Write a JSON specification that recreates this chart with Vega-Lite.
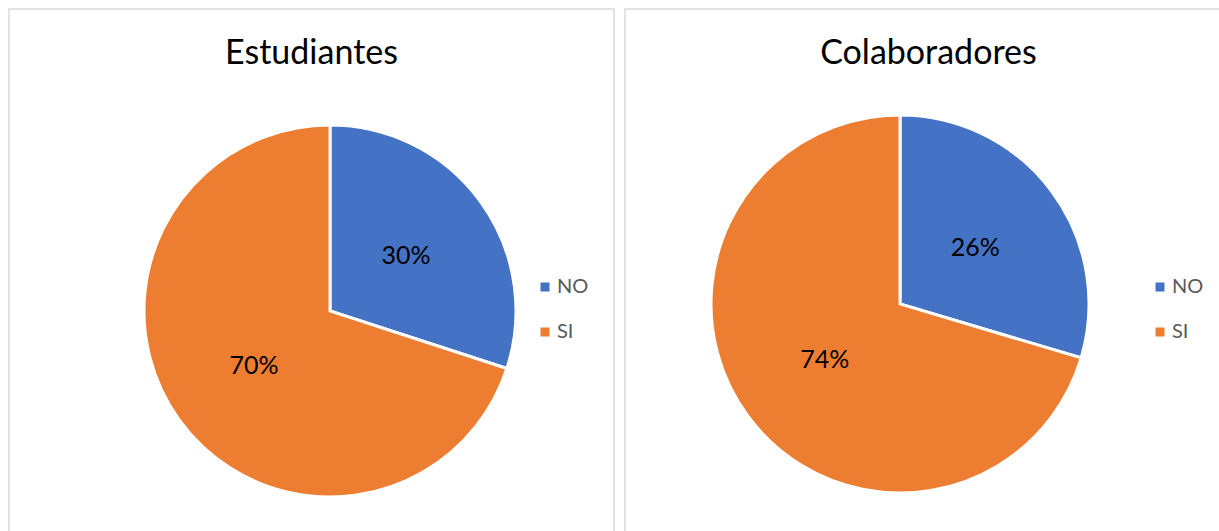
{
  "$schema": "https://vega.github.io/schema/vega-lite/v6.json",
  "padding": {"left": 8, "top": 8, "right": 0, "bottom": 0},
  "background": "white",
  "spacing": 9,
  "config": {
    "view": {"stroke": "#d9d9d9", "strokeWidth": 1.5},
    "font": "Lato",
    "title": {"font": "Lato", "fontSize": 34, "fontWeight": "normal", "color": "#000000", "anchor": "middle", "offset": -62, "baseline": "alphabetic"},
    "legend": {
      "orient": "none", "title": null, "symbolType": "square", "symbolSize": 81,
      "symbolStrokeWidth": 0, "labelFont": "Lato", "labelFontSize": 20, "labelColor": "#595959",
      "labelOffset": 2, "rowPadding": 25, "padding": 0
    }
  },
  "data": {
    "values": [
      {"grupo": "Estudiantes", "categoria": "NO", "valor": 30, "etiqueta": "30%"},
      {"grupo": "Estudiantes", "categoria": "SI", "valor": 70, "etiqueta": "70%"},
      {"grupo": "Colaboradores", "categoria": "NO", "valor": 29.6, "etiqueta": "26%"},
      {"grupo": "Colaboradores", "categoria": "SI", "valor": 70.4, "etiqueta": "74%"}
    ]
  },
  "resolve": {"scale": {"color": "independent", "theta": "independent"}, "legend": {"color": "independent"}},
  "hconcat": [
    {
      "width": 605,
      "height": 523,
      "view": {"stroke": "#d9d9d9", "strokeWidth": 1.5, "fill": "white"},
      "title": {"text": "Estudiantes"},
      "transform": [{"filter": "datum.grupo === 'Estudiantes'"}],
      "layer": [
        {
          "mark": {"type": "arc", "outerRadius": 186, "x": 321, "y": 302, "stroke": "white", "strokeWidth": 3},
          "encoding": {
            "theta": {"field": "valor", "type": "quantitative", "stack": true},
            "color": {
              "field": "categoria", "type": "nominal",
              "scale": {"domain": ["NO", "SI"], "range": ["#4472C4", "#ED7D31"]},
              "legend": {"legendX": 526, "legendY": 268}
            }
          }
        },
        {
          "mark": {"type": "text", "radius": 94, "x": 321, "y": 302, "fontSize": 25, "font": "Lato", "color": "#000000"},
          "encoding": {
            "theta": {"field": "valor", "type": "quantitative", "stack": true},
            "detail": {"field": "categoria", "type": "nominal"},
            "text": {"field": "etiqueta", "type": "nominal"}
          }
        }
      ]
    },
    {
      "width": 597,
      "height": 523,
      "view": {"stroke": "#d9d9d9", "strokeWidth": 1.5, "fill": "white"},
      "title": {"text": "Colaboradores", "dx": 5},
      "transform": [{"filter": "datum.grupo === 'Colaboradores'"}],
      "layer": [
        {
          "mark": {"type": "arc", "outerRadius": 189, "x": 275, "y": 295, "stroke": "white", "strokeWidth": 3},
          "encoding": {
            "theta": {"field": "valor", "type": "quantitative", "stack": true},
            "color": {
              "field": "categoria", "type": "nominal",
              "scale": {"domain": ["NO", "SI"], "range": ["#4472C4", "#ED7D31"]},
              "legend": {"legendX": 525, "legendY": 268}
            }
          }
        },
        {
          "mark": {"type": "text", "radius": 94, "x": 275, "y": 295, "fontSize": 25, "font": "Lato", "color": "#000000"},
          "encoding": {
            "theta": {"field": "valor", "type": "quantitative", "stack": true},
            "detail": {"field": "categoria", "type": "nominal"},
            "text": {"field": "etiqueta", "type": "nominal"}
          }
        }
      ]
    }
  ]
}
